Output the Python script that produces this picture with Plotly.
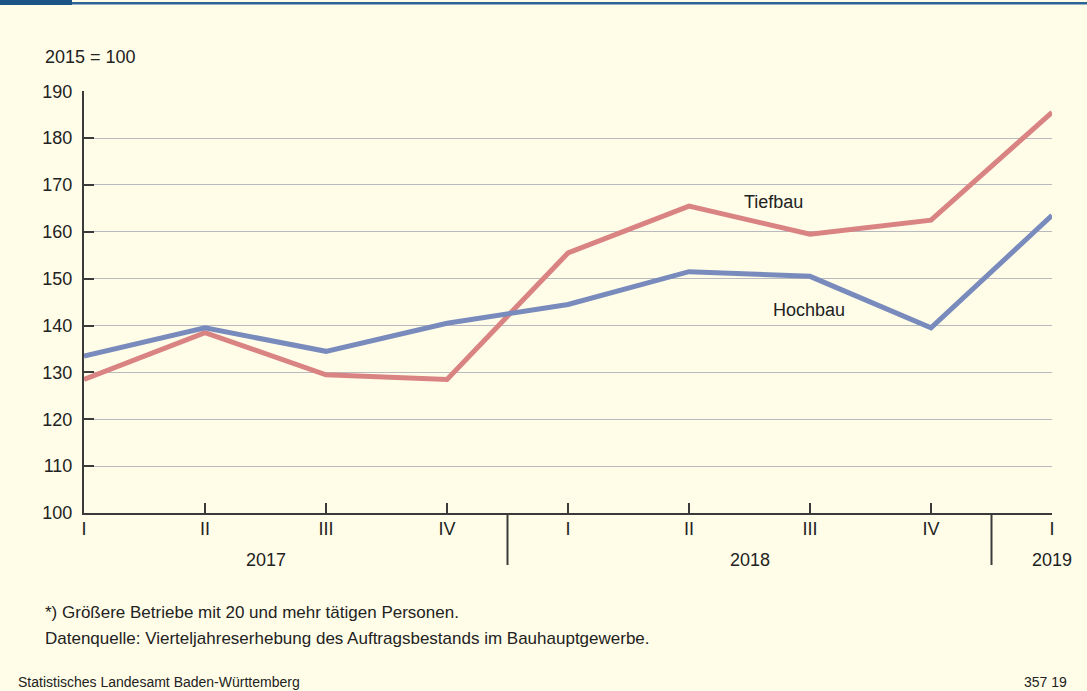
import plotly.graph_objects as go

quarters = ["I", "II", "III", "IV", "I", "II", "III", "IV", "I"]
years = ["2017", "2018", "2019"]
year_centers = [1.5, 5.5, 8]
year_separators = [3.5, 7.5]
tiefbau = [128.5, 138.5, 129.5, 128.5, 155.5, 165.5, 159.5, 162.5, 185.5]
hochbau = [133.5, 139.5, 134.5, 140.5, 144.5, 151.5, 150.5, 139.5, 163.5]
y_ticks = [100, 110, 120, 130, 140, 150, 160, 170, 180, 190]

x_idx = list(range(len(quarters)))
BG = "#FFFDE8"
AX = "#3A3A3A"
TXT = "#222222"
FONT = "Liberation Sans, Arial, sans-serif"
YMAX = 190.05

L, R, T, B = 84, 35, 91, 178
PW, PH = 1087 - L - R, 691 - T - B


def paper_x(px):
    return (px - L) / PW


def paper_y(py):
    return (691 - B - py) / PH


def px_to_x(px):
    return (px - L) / (PW / 8.0)


def px_to_y(py):
    return 100 + (691 - B - py) / (PH / (YMAX - 100))


fig = go.Figure()
fig.add_trace(go.Scatter(x=x_idx, y=tiefbau, mode="lines", name="Tiefbau",
                         line=dict(color="#D98383", width=5), hoverinfo="skip"))
fig.add_trace(go.Scatter(x=x_idx, y=hochbau, mode="lines", name="Hochbau",
                         line=dict(color="#788BBC", width=5), hoverinfo="skip"))

fig.update_layout(
    width=1087, height=691,
    paper_bgcolor=BG, plot_bgcolor=BG,
    margin=dict(l=L, r=R, t=T, b=B, autoexpand=False),
    showlegend=False,
    font=dict(family=FONT, size=18, color=TXT),
    xaxis=dict(range=[0, 8], tickmode="array", tickvals=x_idx, ticktext=quarters,
               showgrid=False, zeroline=False, showline=True, linecolor=AX, linewidth=2,
               ticks="inside", ticklen=10, tickwidth=2, tickcolor=AX,
               ticklabelstandoff=-2,
               tickfont=dict(size=18, color=TXT), fixedrange=True),
    yaxis=dict(range=[100, YMAX], tickmode="array", tickvals=y_ticks,
               showgrid=True, gridcolor="#B9B9C0", gridwidth=1, zeroline=False,
               showline=True, linecolor=AX, linewidth=2,
               ticks="inside", ticklen=10, tickwidth=2, tickcolor=AX,
               ticklabelstandoff=6,
               tickfont=dict(size=18, color=TXT), fixedrange=True),
)

shapes = []
for xs in year_separators:
    shapes.append(dict(type="line", xref="x", yref="paper", x0=xs, x1=xs,
                       y0=0, y1=paper_y(565), line=dict(color=AX, width=2)))
# top header bar
shapes.append(dict(type="rect", xref="paper", yref="paper", x0=paper_x(0), x1=paper_x(1087),
                   y0=paper_y(4.5), y1=paper_y(2), line=dict(width=0), fillcolor="#2A6496"))
shapes.append(dict(type="rect", xref="paper", yref="paper", x0=paper_x(0), x1=paper_x(72),
                   y0=paper_y(5), y1=paper_y(-1), line=dict(width=0), fillcolor="#1B5587"))
fig.update_layout(shapes=shapes)

ann = []
for yr, xc in zip(years, year_centers):
    ann.append(dict(x=xc, y=paper_y(560), xref="x", yref="paper", text=yr, showarrow=False,
                    xanchor="center", yanchor="middle", font=dict(size=18, color=TXT)))
ann.append(dict(x=px_to_x(773), y=px_to_y(202), xref="x", yref="y", text="Tiefbau",
                showarrow=False, font=dict(size=18, color=TXT)))
ann.append(dict(x=px_to_x(809), y=px_to_y(310), xref="x", yref="y", text="Hochbau",
                showarrow=False, font=dict(size=18, color=TXT)))
ann.append(dict(x=paper_x(43), y=paper_y(57), xref="paper", yref="paper", text="2015 = 100",
                showarrow=False, xanchor="left", yanchor="middle", font=dict(size=18, color=TXT)))
ann.append(dict(x=paper_x(43), y=paper_y(612), xref="paper", yref="paper",
                text="*) Größere Betriebe mit 20 und mehr tätigen Personen.",
                showarrow=False, xanchor="left", yanchor="middle", font=dict(size=17, color=TXT)))
ann.append(dict(x=paper_x(43), y=paper_y(638), xref="paper", yref="paper",
                text="Datenquelle: Vierteljahreserhebung des Auftragsbestands im Bauhauptgewerbe.",
                showarrow=False, xanchor="left", yanchor="middle", font=dict(size=17, color=TXT)))
ann.append(dict(x=paper_x(16), y=paper_y(682), xref="paper", yref="paper",
                text="Statistisches Landesamt Baden-Württemberg",
                showarrow=False, xanchor="left", yanchor="middle", font=dict(size=14, color=TXT)))
ann.append(dict(x=paper_x(1069), y=paper_y(682), xref="paper", yref="paper",
                text="357 19",
                showarrow=False, xanchor="right", yanchor="middle", font=dict(size=14, color=TXT)))
fig.update_layout(annotations=ann)

fig.write_html("out.html", config={"displayModeBar": False},
               post_script="document.body.style.margin='0';document.body.style.background='" + BG + "';")
